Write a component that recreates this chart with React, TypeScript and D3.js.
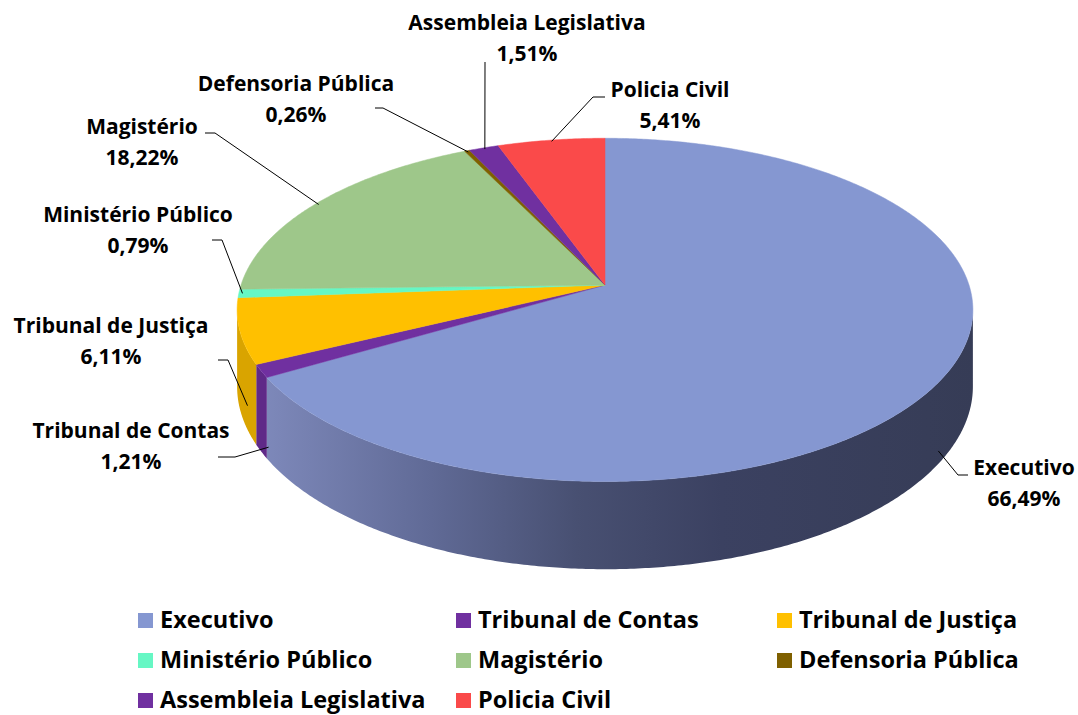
import React, { useEffect, useRef } from "react";
import * as d3 from "d3";

// data
const categories = [
  "Executivo",
  "Tribunal de Contas",
  "Tribunal de Justiça",
  "Ministério Público",
  "Magistério",
  "Defensoria Pública",
  "Assembleia Legislativa",
  "Policia Civil",
];
const shares = [66.49, 1.21, 6.11, 0.79, 18.22, 0.26, 1.51, 5.41];
const colors = [
  "#8597d1",
  "#7030a0",
  "#ffc000",
  "#66f7c4",
  "#9ec78a",
  "#7f6000",
  "#7030a0",
  "#fa4a4a",
];

// label placement (text centre x, first baseline y, leader start + elbow)
const labelLayout: { x: number; y: number; line: [number, number][] }[] = [
  { x: 1024, y: 475, line: [[968, 475], [958, 475]] },
  { x: 131, y: 438, line: [[218, 457], [235, 457]] },
  { x: 111, y: 333, line: [[218, 360], [228, 360]] },
  { x: 138, y: 222, line: [[212, 240], [222, 240]] },
  { x: 142, y: 134, line: [[205, 133], [215, 133]] },
  { x: 296, y: 91, line: [[375, 108], [383, 108]] },
  { x: 527, y: 30, line: [[485, 62], [485, 62]] },
  { x: 670, y: 97, line: [[605, 97], [593, 97]] },
];

const legendCols = [138, 456, 777];
const legendRows = [628, 668, 708];

const width = 1078;
const height = 715;

const App: React.FC = () => {
  const svgRef = useRef<SVGSVGElement>(null);

  useEffect(() => {
    if (!svgRef.current) return;
    const svg = d3.select(svgRef.current);
    svg.selectAll("*").remove();

    const cx = 605;
    const cy = 285;
    const rx = 364;
    const ry = 168;
    const persp = 0.145;
    const depth = 75;
    const font = "'Open Sans', 'DejaVu Sans', sans-serif";

    const project = (a: number, r = 1, dz = 0): [number, number] => {
      const u = r * Math.sin(a);
      const v = -r * Math.cos(a);
      const w = 1 - persp * v;
      return [cx + (rx * u) / w, cy + (ry * v + dz) / w];
    };

    const arcPoints = (a0: number, a1: number, dz = 0) => {
      const n = Math.max(2, Math.ceil(((a1 - a0) * 180) / Math.PI / 0.5));
      return d3.range(n + 1).map((i) => project(a0 + ((a1 - a0) * i) / n, 1, dz));
    };

    const arcs = d3
      .pie<number>()
      .sort(null)
      .value((d) => d)(shares);

    const defs = svg.append("defs");
    const grad = defs
      .append("linearGradient")
      .attr("id", "execSide")
      .attr("gradientUnits", "userSpaceOnUse")
      .attr("x1", 250)
      .attr("x2", 975)
      .attr("y1", 0)
      .attr("y2", 0);
    [
      [0, "#808bbd"],
      [0.25, "#606a96"],
      [0.45, "#485072"],
      [0.65, "#3b4161"],
      [1, "#363c56"],
    ].forEach(([o, c]) =>
      grad.append("stop").attr("offset", o as number).attr("stop-color", c as string),
    );

    const line = d3.line();

    // visible side walls (between the silhouette extremes)
    const aRight = Math.acos(-persp);
    const aLeft = 2 * Math.PI - aRight;
    const walls = svg.append("g");
    arcs.forEach((d, i) => {
      const a0 = Math.max(d.startAngle, aRight);
      const a1 = Math.min(d.endAngle, aLeft);
      if (a1 <= a0) return;
      const top = arcPoints(a0, a1, 0);
      const bottom = arcPoints(a0, a1, depth).reverse();
      walls
        .append("path")
        .attr("d", line([...top, ...bottom]) + "Z")
        .attr(
          "fill",
          i === 0 ? "url(#execSide)" : d3.color(colors[i])!.darker(0.45).formatHex(),
        );
    });

    // top faces
    const tops = svg.append("g");
    arcs.forEach((d, i) => {
      const pts = [[cx, cy] as [number, number], ...arcPoints(d.startAngle, d.endAngle)];
      tops
        .append("path")
        .attr("d", line(pts) + "Z")
        .attr("fill", colors[i])
        .attr("stroke", colors[i])
        .attr("stroke-width", 0.5);
    });

    // labels with leader lines
    const labels = svg.append("g");
    arcs.forEach((d, i) => {
      const mid = (d.startAngle + d.endAngle) / 2;
      const v = -Math.cos(mid);
      const anchor = v > 0.2 ? project(mid, 0.98, depth * 0.97) : project(mid, 0.99);
      const lay = labelLayout[i];
      labels
        .append("path")
        .attr("d", line([...lay.line, anchor]))
        .attr("fill", "none")
        .attr("stroke", "#000")
        .attr("stroke-width", 1);
      const t = labels
        .append("text")
        .attr("x", lay.x)
        .attr("y", lay.y)
        .attr("text-anchor", "middle")
        .style("font-family", font)
        .style("font-weight", 700)
        .style("font-size", "21px")
        .attr("fill", "#000");
      t.append("tspan").attr("x", lay.x).text(categories[i]);
      t.append("tspan")
        .attr("x", lay.x)
        .attr("dy", 31)
        .text(shares[i].toFixed(2).replace(".", ",") + "%");
    });

    // legend
    const legend = svg.append("g");
    categories.forEach((c, i) => {
      const col = legendCols[i % 3];
      const row = legendRows[Math.floor(i / 3)];
      legend
        .append("rect")
        .attr("x", col)
        .attr("y", row - 15)
        .attr("width", 15)
        .attr("height", 15)
        .attr("fill", colors[i]);
      legend
        .append("text")
        .attr("x", col + 22)
        .attr("y", row)
        .style("font-family", font)
        .style("font-weight", 700)
        .style("font-size", "23.5px")
        .attr("fill", "#000")
        .text(c);
    });
  }, []);

  return (
    <svg
      ref={svgRef}
      width={width}
      height={height}
      style={{ position: "absolute", left: 0, top: 0, background: "#fff" }}
    ></svg>
  );
};

export default App;
